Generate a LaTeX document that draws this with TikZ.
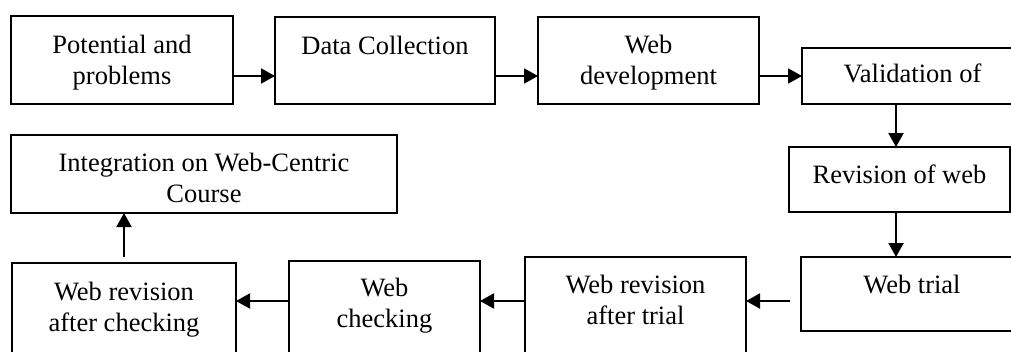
\documentclass[tikz,border=0pt]{standalone}
\usepackage{fontspec}
\setmainfont{Liberation Serif}
\usetikzlibrary{arrows.meta}
% box content: width, height, first-baseline offset from the top, text
\newcommand\boxtext[4]{\parbox[t][#2pt][t]{#1pt}{\centering\vspace*{\dimexpr#3pt-0.7\baselineskip\relax}\strut #4}}
\begin{document}
\begin{tikzpicture}[x=1pt,y=-1pt,
  stage/.style={draw, line width=2pt, inner sep=0pt, outer sep=0pt, anchor=north west,
    font=\fontsize{26.5pt}{31pt}\selectfont},
  flow/.style={line width=2pt, -{Triangle[length=14pt,width=15pt]}}]
\useasboundingbox (0,0) rectangle (1011,351);
\clip (0,0) rectangle (1011,351);

% stages
\node[stage] (pot)    at (11,16)   {\boxtext{222}{88}{37}{Potential and\\problems}};
\node[stage] (data)   at (275,17)  {\boxtext{220}{87}{37}{Data Collection}};
\node[stage] (dev)    at (538,17)  {\boxtext{221}{87}{36}{Web\\development}};
\node[stage] (val)    at (802,48)  {\boxtext{221}{56}{34}{Validation of}};
\node[stage] (rev)    at (789,147) {\boxtext{221}{65}{36}{Revision of web}};
\node[stage] (trial)  at (801,257) {\boxtext{222}{74}{36}{Web trial}};
\node[stage] (atrial) at (525,257) {\boxtext{221}{115}{36}{Web revision\\after trial}};
\node[stage] (check)  at (289,261) {\boxtext{191}{110}{35}{Web\\checking}};
\node[stage] (rcheck) at (12,263)  {\boxtext{224}{110}{37}{Web revision\\after checking}};
\node[stage] (integ)  at (11,135)  {\boxtext{386}{78}{36}{Integration on Web-Centric\\Course}};

% connector rows and column
\coordinate (r1) at (0,76);
\coordinate (r3) at (0,301);
\coordinate (c1) at (896,0);

\draw[flow] (pot.east |- r1) -- (data.west |- r1);
\draw[flow] (data.east |- r1) -- (dev.west |- r1);
\draw[flow] (dev.east |- r1) -- (val.west |- r1);
\draw[flow] (c1 |- val.south) -- (c1 |- rev.north);
\draw[flow] (c1 |- rev.south) -- (c1 |- trial.north);
\draw[flow, shorten <=11pt] (trial.west |- r3) -- (atrial.east |- r3);
\draw[flow] (atrial.west |- r3) -- (check.east |- r3);
\draw[flow] (check.west |- r3) -- (rcheck.east |- r3);
\draw[flow, shorten <=6pt] (rcheck.north) -- (rcheck.north |- integ.south);
\end{tikzpicture}
\end{document}
